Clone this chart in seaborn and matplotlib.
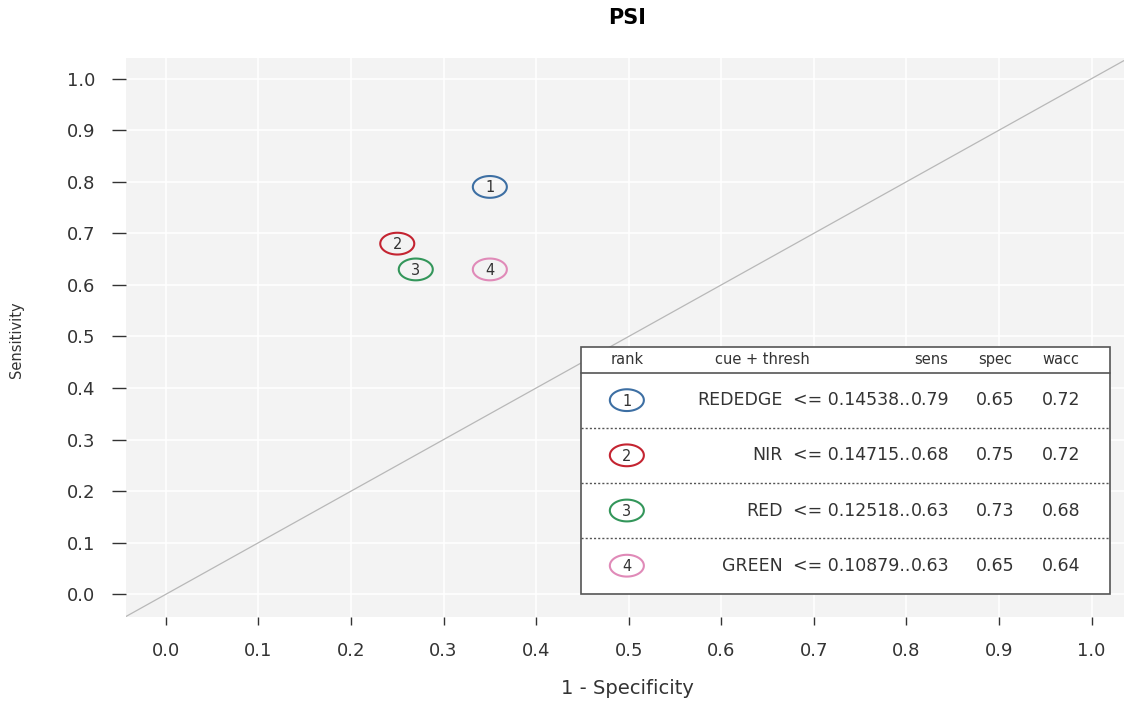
import numpy as np
import pandas as pd
import matplotlib
matplotlib.use("Agg")
import matplotlib.pyplot as plt
from matplotlib.path import Path
from matplotlib.patches import Rectangle
import seaborn as sns

# Cue performance for the PSI data set
ranks = [1, 2, 3, 4]
cues = ["REDEDGE", "NIR", "RED", "GREEN"]
thresholds = ["0.14538", "0.14715", "0.12518", "0.10879"]
sens = [0.79, 0.68, 0.63, 0.63]
spec = [0.65, 0.75, 0.73, 0.65]
wacc = [0.72, 0.72, 0.68, 0.64]
rank_colors = ["#3d6fa3", "#c42431", "#33965a", "#e08ab8"]
ticks = [0.0, 0.1, 0.2, 0.3, 0.4, 0.5, 0.6, 0.7, 0.8, 0.9, 1.0]

df = pd.DataFrame({
    "rank": [str(r) for r in ranks],
    "cue": cues,
    "thresh": thresholds,
    "sens": sens,
    "spec": spec,
    "wacc": wacc,
})
df["fpr"] = 1 - df["spec"]

BG = "#f3f3f3"
TXT = "#333333"

sns.set_theme(style="darkgrid", rc={
    "axes.facecolor": BG,
    "grid.color": "white",
    "grid.linewidth": 1.1,
    "axes.edgecolor": BG,
})
plt.rcParams["font.family"] = ["DejaVu Sans"]

fig = plt.figure(figsize=(11.24, 7.06), dpi=100)
ax = fig.add_axes([126 / 1124, 89 / 706, 1 - 126 / 1124, (648 - 89) / 706])

# chance diagonal
ax.axline((0, 0), (1, 1), color="#b8b8b8", lw=0.9, zorder=1)

# elliptical ring marker
theta = np.linspace(0, 2 * np.pi, 100)
ring = Path(np.column_stack([np.cos(theta), 0.64 * np.sin(theta)]), closed=True)


def ring_points(data, x, y):
    sns.scatterplot(data=data, x=x, y=y, hue="rank", palette=rank_colors,
                    marker=ring, s=600, linewidth=1.5, legend=False, ax=ax,
                    zorder=5)
    pts = ax.collections[-1]
    pts.set_edgecolors(pts.get_facecolors())
    pts.set_facecolors("none")


ring_points(df, "fpr", "sens")
for _, r in df.iterrows():
    ax.text(r["fpr"], r["sens"] - 0.002, r["rank"], ha="center", va="center",
            fontsize=10.5, color=TXT, zorder=6)

# performance table
x0, x1, y0, y1 = 0.449, 1.02, 0.001, 0.479
head_y = 0.430
row_h = 0.107
ax.add_patch(Rectangle((x0, y0), x1 - x0, y1 - y0, facecolor="white",
                       edgecolor="#555555", lw=1.2, zorder=3))
ax.plot([x0, x1], [head_y, head_y], color="#555555", lw=1.2, zorder=4)
for i in range(1, len(ranks)):
    yy = head_y - i * row_h
    ax.plot([x0, x1], [yy, yy], color="#555555", lw=1.0, ls=(0, (1.5, 1.5)),
            zorder=4)

hy = 0.455
hdr = dict(fontsize=10.5, color=TXT, va="center", zorder=6)
ax.text(0.498, hy, "rank", ha="center", **hdr)
ax.text(0.644, hy, "cue + thresh", ha="center", **hdr)
ax.text(0.827, hy, "sens", ha="center", **hdr)
ax.text(0.896, hy, "spec", ha="center", **hdr)
ax.text(0.967, hy, "wacc", ha="center", **hdr)

tab = df.copy()
tab["row_y"] = [head_y - (i + 0.5) * row_h for i in range(len(tab))]
tab["rank_x"] = 0.498
ring_points(tab, "rank_x", "row_y")

cell = dict(fontsize=12.5, color=TXT, va="center", zorder=6)
for _, r in tab.iterrows():
    yy = r["row_y"]
    ax.text(0.498, yy - 0.002, r["rank"], ha="center", fontsize=10.5,
            color=TXT, va="center", zorder=6)
    ax.text(0.666, yy, r["cue"], ha="right", **cell)
    ax.text(0.678, yy, f"<= {r['thresh']}..", ha="left", **cell)
    ax.text(0.826, yy, f"{r['sens']:.2f}", ha="center", **cell)
    ax.text(0.896, yy, f"{r['spec']:.2f}", ha="center", **cell)
    ax.text(0.967, yy, f"{r['wacc']:.2f}", ha="center", **cell)

# axes styling (after seaborn calls, which set their own labels)
ax.set_xlim(-0.043, 1.035)
ax.set_ylim(-0.044, 1.04)
ax.set_xticks(ticks)
ax.set_yticks(ticks)
ax.set_xticklabels([f"{t:.1f}" for t in ticks])
ax.set_yticklabels([f"{t:.1f}" for t in ticks])
ax.tick_params(axis="both", colors=TXT, labelsize=13, width=1.0)
ax.tick_params(axis="x", length=6, pad=12, direction="out", bottom=True)
ax.tick_params(axis="y", length=10, pad=12, direction="out", left=True)
for s in ax.spines.values():
    s.set_visible(False)
ax.set_xlabel("")
ax.set_ylabel("")

fig.text(627 / 1124, 1 - 18 / 706, "PSI", ha="center", va="center",
         fontsize=15, fontweight="bold", color="black")
fig.text(627 / 1124, 1 - 688 / 706, "1 - Specificity", ha="center",
         va="center", fontsize=14, color=TXT)
fig.text(17 / 1124, 1 - 340 / 706, "Sensitivity", ha="center", va="center",
         fontsize=10.5, rotation=90, color=TXT)

fig.savefig("out.png", dpi=100, facecolor="white")
